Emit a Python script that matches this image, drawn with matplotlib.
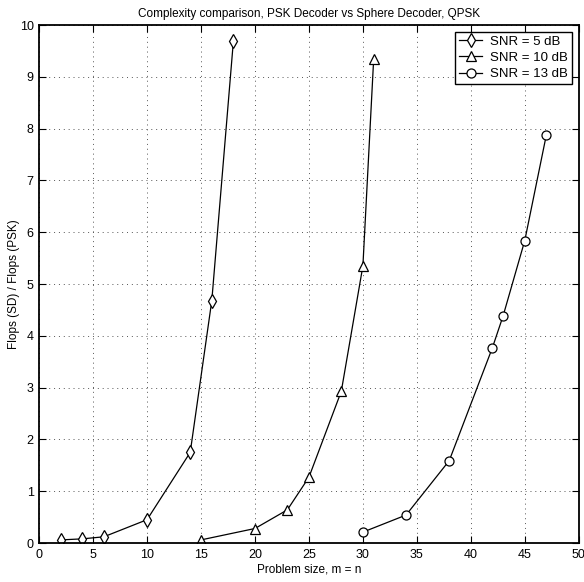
import matplotlib
matplotlib.use('Agg')
from matplotlib import pyplot as plt

plt.rcParams['font.family'] = ['Liberation Sans', 'DejaVu Sans']

# SNR = 5 dB
x_5 = [2, 4, 6, 10, 14, 16, 18]
y_5 = [0.06, 0.08, 0.12, 0.45, 1.75, 4.68, 9.69]
# SNR = 10 dB
x_10 = [15, 20, 23, 25, 28, 30, 31]
y_10 = [0.06, 0.28, 0.64, 1.27, 2.93, 5.35, 9.35]
# SNR = 13 dB
x_13 = [30, 34, 38, 42, 43, 45, 47]
y_13 = [0.21, 0.54, 1.59, 3.77, 4.39, 5.84, 7.88]

xticks = list(range(0, 51, 5))
yticks = list(range(0, 11))

fig = plt.figure(figsize=(5.84, 5.82), dpi=100)
ax = fig.add_axes([0.067, 0.067, 0.924, 0.89])

ax.plot(x_5, y_5, c='black', lw=0.9, marker='d', ms=7, mfc='white', mec='black', mew=0.9, label='SNR = 5 dB')
ax.plot(x_10, y_10, c='black', lw=0.9, marker='^', ms=6.5, mfc='white', mec='black', mew=0.9, label='SNR = 10 dB')
ax.plot(x_13, y_13, c='black', lw=0.9, marker='o', ms=6.5, mfc='white', mec='black', mew=0.9, label='SNR = 13 dB')

ax.set_xlim(0, 50)
ax.set_ylim(0, 10)
ax.set_xticks(xticks)
ax.set_yticks(yticks)
ax.tick_params(direction='in', top=True, right=True, length=5, width=0.8, labelsize=9, pad=4)
ax.grid(True, linestyle=(0, (1, 4)), color='#555555', linewidth=0.7)
for s in ax.spines.values():
    s.set_linewidth(1.3)

ax.set_title('Complexity comparison, PSK Decoder vs Sphere Decoder, QPSK', fontsize=8.5, pad=6)
ax.set_xlabel('Problem size, m = n', fontsize=8.5, labelpad=2)
ax.set_ylabel('Flops (SD) / Flops (PSK)', fontsize=8.5)
ax.yaxis.set_label_coords(-0.035, 0.5)

leg = ax.legend(loc='upper right', fontsize=9.5, fancybox=False, framealpha=1, edgecolor='black',
                handlelength=1.8, handletextpad=0.6, borderpad=0.3, labelspacing=0.3,
                borderaxespad=0.5)
leg.get_frame().set_linewidth(1.0)

fig.savefig('out.png', dpi=100)
